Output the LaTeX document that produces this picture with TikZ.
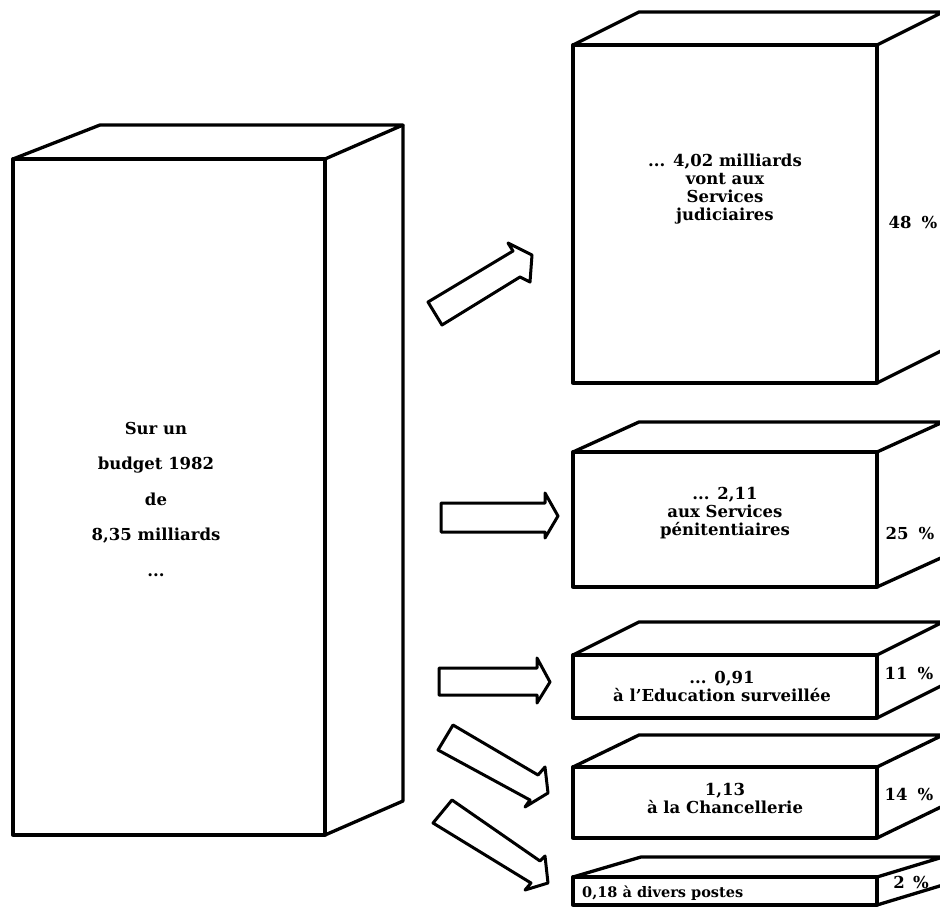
\documentclass[tikz,border=0pt]{standalone}
\usepackage{fontspec}
\setmainfont{DejaVu Serif}
\begin{document}
\begin{tikzpicture}[x=1pt,y=-1pt,
  edge/.style={line width=3.3pt, line join=round},
  blockarrow/.style={line width=3pt, line join=round, fill=white},
  lbl/.style={font=\bfseries\fontsize{16.5}{18}\selectfont, align=center, inner sep=0pt},
  big/.style={font=\bfseries\fontsize{16.5}{35.5}\selectfont, align=center, inner sep=0pt},
  pct/.style={font=\bfseries\fontsize{16.5}{18}\selectfont, inner sep=0pt}]
\useasboundingbox (0,0) rectangle (940,915);
\clip (0,0) rectangle (940,915);

% left big block
\draw[edge] (13,159) rectangle (325,835);
\draw[edge] (13,159) -- (100,125) -- (403,125) -- (325,159);
\draw[edge] (403,125) -- (403,801) -- (325,835);
\node[big] (total) at (156,499) {Sur un\\budget 1982\\de\\8,35 milliards\\...};

% right block 1
\draw[edge] (573,45) rectangle (877,383);
\draw[edge] (573,45) -- (639,12) -- (943,12) -- (877,45);
\draw[edge] (943,12) -- (943,350) -- (877,383);
\node[lbl] (jud) at (725,189) {... 4,02 milliards\\vont aux\\Services\\judiciaires};
\node[pct] (p48) at (913,222) {48\hspace{0.6em}\%};

% right block 2
\draw[edge] (573,452) rectangle (877,587);
\draw[edge] (573,452) -- (639,422) -- (943,422) -- (877,452);
\draw[edge] (943,422) -- (943,557) -- (877,587);
\node[lbl] (pen) at (725,513) {... 2,11\\aux Services\\pénitentiaires};
\node[pct] (p25) at (910,533) {25\hspace{0.6em}\%};

% right block 3
\draw[edge] (573,655) rectangle (877,718);
\draw[edge] (573,655) -- (639,622) -- (943,622) -- (877,655);
\draw[edge] (943,622) -- (943,685) -- (877,718);
\node[lbl] (edu) at (722,686) {... 0,91\\à l'Education surveillée};
\node[pct] (p11) at (909,673) {11\hspace{0.6em}\%};

% right block 4
\draw[edge] (573,767) rectangle (877,838);
\draw[edge] (573,767) -- (639,735) -- (943,735) -- (877,767);
\draw[edge] (943,735) -- (943,806) -- (877,838);
\node[lbl] (chan) at (725,798) {1,13\\à la Chancellerie};
\node[pct] (p14) at (909,794) {14\hspace{0.6em}\%};

% right block 5
\draw[edge] (573,877) rectangle (877,905);
\draw[edge] (573,877) -- (641,857) -- (943,857) -- (877,877);
\draw[edge] (943,857) -- (943,885) -- (877,905);
\node[lbl, font=\bfseries\fontsize{14.5}{16}\selectfont, anchor=west] (div) at (582,893) {0,18 à divers postes};
\node[pct] (p2) at (911,882) {2\hspace{0.5em}\%};

% block arrows
\draw[blockarrow] (428,302) -- (513,251) -- (508,243) -- (532,255) -- (530,282) -- (520,277) -- (442,325) -- cycle;
\draw[blockarrow] (441,503) -- (545,503) -- (545,493) -- (558,516) -- (545,538) -- (545,532) -- (441,532) -- cycle;
\draw[blockarrow] (439,668) -- (537,668) -- (537,658) -- (550,682) -- (537,703) -- (537,695) -- (439,695) -- cycle;
\draw[blockarrow] (453,725) -- (538,775) -- (545,767) -- (548,793) -- (525,807) -- (530,800) -- (438,750) -- cycle;
\draw[blockarrow] (452,800) -- (540,861) -- (545,856) -- (548,883) -- (525,890) -- (531,883) -- (433,823) -- cycle;
\end{tikzpicture}
\end{document}
